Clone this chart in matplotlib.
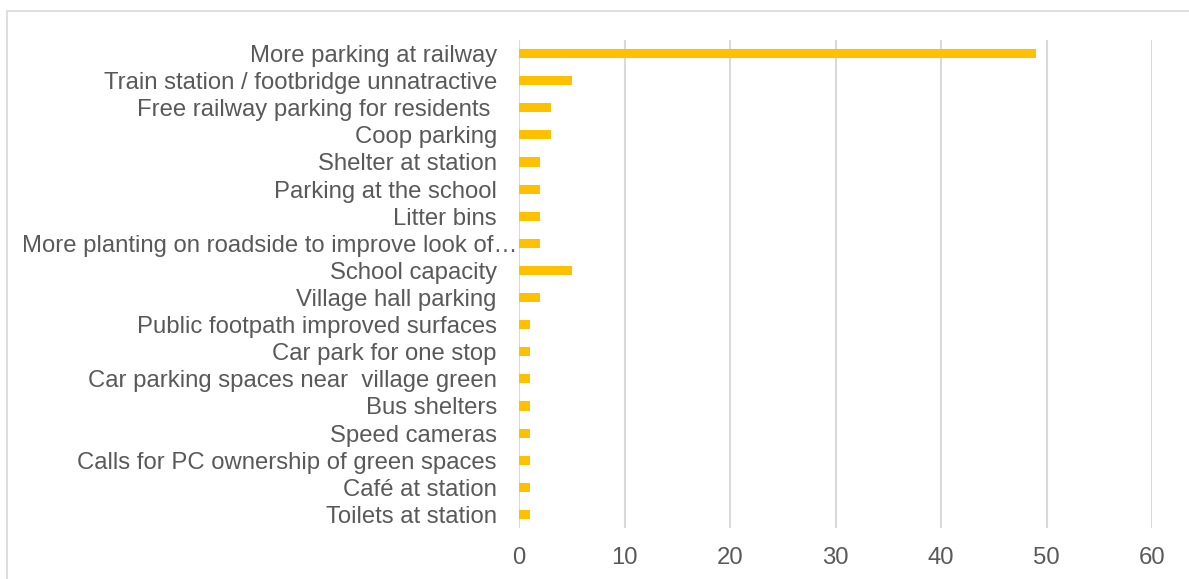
import matplotlib.pyplot as plt
import matplotlib.transforms as mtransforms
from matplotlib.patches import Rectangle

plt.rcParams['font.family'] = ['Liberation Sans', 'DejaVu Sans']

# categories, top to bottom
kategorier = [
    "More parking at railway",
    "Train station / footbridge unnatractive",
    "Free railway parking for residents ",
    "Coop parking",
    "Shelter at station",
    "Parking at the school",
    "Litter bins",
    "More planting on roadside to improve look of\u2026",
    "School capacity",
    "Village hall parking",
    "Public footpath improved surfaces",
    "Car park for one stop",
    "Car parking spaces near  village green",
    "Bus shelters",
    "Speed cameras",
    "Calls for PC ownership of green spaces",
    "Caf\u00e9 at station",
    "Toilets at station",
]
verdier = [49, 5, 3, 3, 2, 2, 2, 2, 5, 2, 1, 1, 1, 1, 1, 1, 1, 1]
x_ticks = [0, 10, 20, 30, 40, 50, 60]
lang_etikett = 7  # the truncated label runs up to the axis in the original

W, H = 1189, 579
fig = plt.figure(figsize=(W / 100, H / 100), dpi=100)
ax = fig.add_axes([519 / W, 1 - 528 / H, (1152 - 519) / W, (528 - 40) / H])

pos = list(range(len(kategorier)))
ax.barh(pos, verdier, height=0.34, color="#FFC000", zorder=3)

etiketter = [k if i != lang_etikett else "" for i, k in enumerate(kategorier)]
ax.set_yticks(pos)
ax.set_yticklabels(etiketter)
ax.set_ylim(len(kategorier) - 0.5, -0.5)
ax.set_xlim(0, 60)
ax.set_xticks(x_ticks)

ax.tick_params(axis='y', length=0, pad=16, labelsize=17.2, labelcolor="#595959")
ax.tick_params(axis='x', length=0, pad=14, labelsize=17.2, labelcolor="#595959")

# long label, placed almost against the axis
trans = ax.get_yaxis_transform() + mtransforms.ScaledTranslation(-2 / 100, 0, fig.dpi_scale_trans)
ax.text(0, lang_etikett, kategorier[lang_etikett], transform=trans, ha='right',
        va='center_baseline', fontsize=17.2, color="#595959", clip_on=False)

ax.grid(axis='x', color="#D9D9D9", linewidth=1.5, zorder=0)
for s in ax.spines.values():
    s.set_visible(False)

# chart area border
fig.add_artist(Rectangle((7 / W, -0.2), 1.2, (H - 11) / H + 0.2,
                         transform=fig.transFigure, fill=False,
                         edgecolor="#D9D9D9", linewidth=1.2))

fig.savefig("out.png", dpi=100)
